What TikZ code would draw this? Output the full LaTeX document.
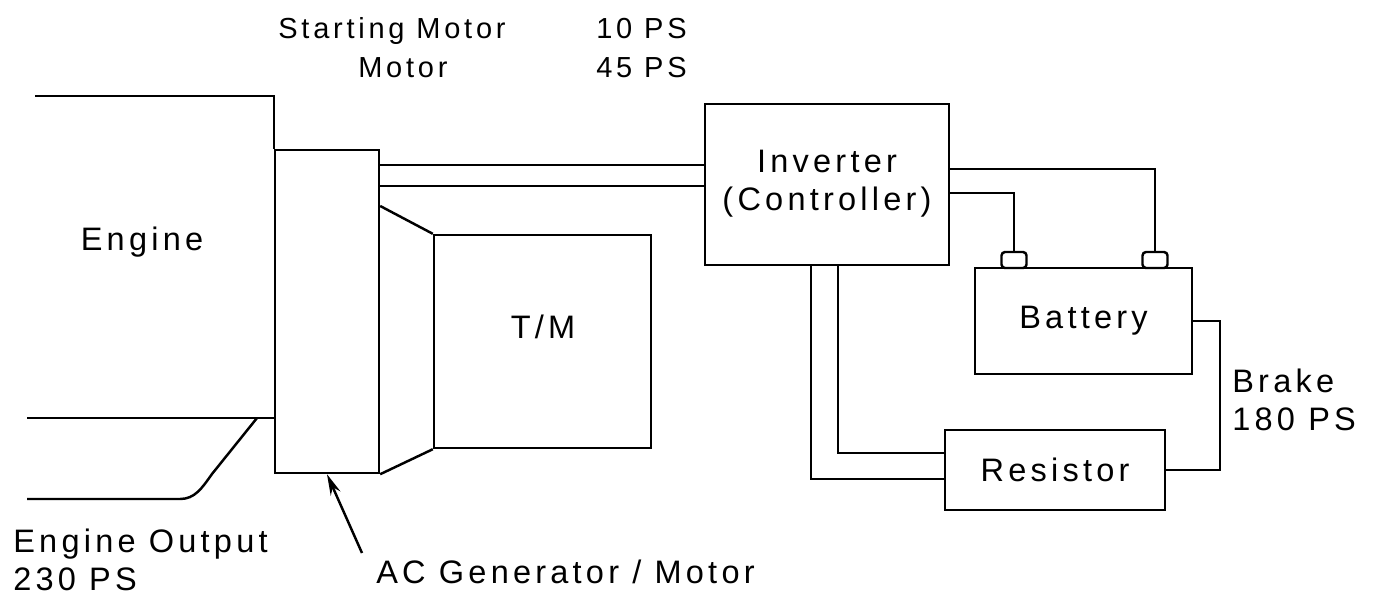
\documentclass[tikz,border=0pt]{standalone}
\usepackage{fontspec}
\setmainfont{Liberation Sans}[LetterSpace=13]
\usetikzlibrary{arrows.meta, calc}
\tikzset{
  every node/.style={font=\fontsize{18.5}{21}\selectfont, inner sep=0pt},
  box/.style   = {rectangle, draw, line width=1.4pt, align=center},
  term/.style  = {rectangle, draw, line width=1.4pt, rounded corners=2pt,
                  minimum width=0.5cm, minimum height=0.32cm},
  wire/.style  = {line width=1.4pt},
  arrow/.style = {-{Stealth[length=12pt,width=6pt]}, line width=1.4pt},
  small/.style = {font=\fontsize{16.5}{19}\selectfont},
}

\begin{document}
\begin{tikzpicture}[x=0.02cm, y=-0.02cm]
  \useasboundingbox (0,0) rectangle (1380,596);

  % ---- drive line: generator, adapter, transmission ----
  \node[box, minimum width=2.08cm, minimum height=6.46cm] (gen) at (327,311.5) {};
  \node[box, minimum width=4.34cm, minimum height=4.26cm] (tm)  at (542.5,341.5) {};
  \node (tmlbl) at (543,327) {T/M};

  % ---- electric side ----
  \node[box, minimum width=4.88cm, minimum height=3.22cm] (inv) at (827,184.5) {};
  \node[anchor=base] (inv1) at (827,172) {Inverter};
  \node[anchor=base] (inv2) at (827,210) {(Controller)};
  \node[box, minimum width=4.34cm, minimum height=2.12cm] (bat) at (1083.5,321) {Battery};
  \node[term] (tl) at (1014,260) {};
  \node[term] (tr) at (1155,260) {};
  \node[box, minimum width=4.4cm, minimum height=1.6cm] (res) at (1055,470) {Resistor};

  % ---- engine outline and output shaft ----
  \draw[wire] (35,96) -| (gen.north west);
  \draw[wire] (27,418) -- (gen.west |- 0,418);
  \draw[wire] (27,499) -- (180,499) .. controls (195,499) and (202,488) .. (212,474) -- (257,418);
  \node (eng) at (142,242) {Engine};

  % ---- adapter between generator and T/M ----
  \draw[wire] (gen.east |- 0,206) -- (tm.north west);
  \draw[wire] (gen.south east) -- (tm.south west);

  % ---- cables ----
  \draw[wire] (gen.east |- 0,165) -- (inv.west |- 0,165);
  \draw[wire] (gen.east |- 0,186) -- (inv.west |- 0,186);
  \draw[wire] (inv.east |- 0,169) -| (tr.north);
  \draw[wire] (inv.east |- 0,193) -| (tl.north);
  \draw[wire] (inv.south -| 811,0) |- (res.west |- 0,479);
  \draw[wire] (inv.south -| 838,0) |- (res.west |- 0,453);
  \draw[wire] (bat.east) -- ++(27,0) |- (res.east);

  % ---- ratings ----
  \node[small, anchor=base west] (stm)  at (278,38) {Starting Motor};
  \node[small, anchor=base east] (stps) at (687,38) {10 PS};
  \node[small, anchor=base west] (mot)  at (358,77) {Motor};
  \node[small, anchor=base east] (mops) at (687,77) {45 PS};
  \node[anchor=base west] (brk)  at (1232,392) {Brake};
  \node[anchor=base west] (brps) at (1232,430) {180 PS};
  \node[anchor=base west] (eo)   at (13,552) {Engine Output};
  \node[anchor=base west] (eops) at (13,590) {230 PS};

  % ---- generator callout ----
  \node[anchor=base west] (acg) at (376,583) {AC Generator / Motor};
  \coordinate (actail) at (362,553);
  \draw[arrow] (actail) -- (gen.south);
\end{tikzpicture}
\end{document}
